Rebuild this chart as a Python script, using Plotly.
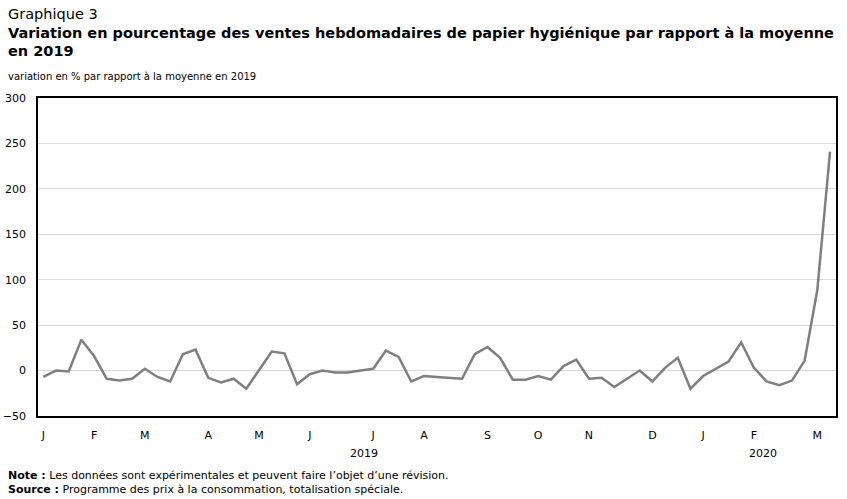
import plotly.graph_objects as go
import pandas as pd

weeks = pd.date_range("2019-01-05", periods=63, freq="7D")
values = [-7, 0, -1, 34, 16, -9, -11, -9, 2, -7, -12, 18, 23, -8, -13, -9, -20, 0, 21, 19,
          -15, -4, 0, -2, -2, 0, 2, 22, 15, -12, -6, -7, -8, -9, 18, 26, 14, -10, -10, -6,
          -10, 5, 12, -9, -8, -18, -9, 0, -12, 3, 14, -20, -6, 2, 10, 31, 3, -12, -16, -11,
          11, 89, 241]
tick_dates = ["2019-01-05", "2019-02-02", "2019-03-02", "2019-04-06", "2019-05-04", "2019-06-01",
              "2019-07-06", "2019-08-03", "2019-09-07", "2019-10-05", "2019-11-02", "2019-12-07",
              "2020-01-04", "2020-02-01", "2020-03-07"]
tick_labels = ["J", "F", "M", "A", "M", "J", "J", "A", "S", "O", "N", "D", "J", "F", "M"]
year_labels = ["2019", "2020"]
year_pos = ["2019-07-01", "2020-02-06"]

FONT = "Verdana, DejaVu Sans, sans-serif"

fig = go.Figure()
fig.add_trace(go.Scatter(x=weeks, y=values, mode="lines",
                         line=dict(color="#7f7f7f", width=2.5), hoverinfo="skip"))

W, H = 847, 499
L, R, T, B = 38, 11, 98, 83
ph = H - T - B
pw = W - L - R

def py(ypix):
    return (H - B - ypix) / ph

def px(xpix):
    return (xpix - L) / pw

ann = []
ann.append(dict(text="Graphique 3", x=px(6), y=py(14), xanchor="left", yanchor="middle",
                font=dict(size=14.5, color="black", family=FONT)))
ann.append(dict(text="<b>Variation en pourcentage des ventes hebdomadaires de papier hygiénique par rapport à la moyenne</b>",
                x=px(6), y=py(33), xanchor="left", yanchor="middle",
                font=dict(size=14.5, color="black", family=FONT)))
ann.append(dict(text="<b>en 2019</b>", x=px(6), y=py(51), xanchor="left", yanchor="middle",
                font=dict(size=14.5, color="black", family=FONT)))
ann.append(dict(text="variation en % par rapport à la moyenne en 2019", x=px(6), y=py(77),
                xanchor="left", yanchor="middle", font=dict(size=10, color="black", family=FONT)))
ann.append(dict(text="<b>Note :</b> Les données sont expérimentales et peuvent faire l’objet d’une révision.",
                x=px(6), y=py(475), xanchor="left", yanchor="middle",
                font=dict(size=11, color="black", family=FONT)))
ann.append(dict(text="<b>Source :</b> Programme des prix à la consommation, totalisation spéciale.",
                x=px(6), y=py(489), xanchor="left", yanchor="middle",
                font=dict(size=11, color="black", family=FONT)))
for t, d in zip(year_labels, year_pos):
    ann.append(dict(text=t, x=d, xref="x", y=py(453), yref="paper", xanchor="center",
                    yanchor="middle", font=dict(size=11, color="black", family=FONT)))
for a in ann:
    a.setdefault("xref", "paper")
    a.setdefault("yref", "paper")
    a["showarrow"] = False

fig.update_layout(
    width=W, height=H,
    margin=dict(l=L, r=R, t=T, b=B, autoexpand=False),
    paper_bgcolor="white", plot_bgcolor="white",
    showlegend=False,
    annotations=ann,
    font=dict(family=FONT, size=11, color="black"),
)
fig.update_xaxes(range=["2019-01-02 02:00", "2020-03-17 07:00"], tickvals=tick_dates,
                 ticktext=tick_labels, showgrid=False, showline=True, linecolor="black",
                 linewidth=1.5, mirror=True, ticks="outside", ticklen=8, automargin=False,
                 tickcolor="rgba(0,0,0,0)", tickfont=dict(size=11), zeroline=False)
fig.update_yaxes(range=[-50, 300], tickvals=[-50, 0, 50, 100, 150, 200, 250, 300],
                 showgrid=True, gridcolor="#d9d9d9", gridwidth=1, showline=True,
                 linecolor="black", linewidth=1.5, mirror=True, ticks="outside", ticklen=8,
                 automargin=False,
                 tickcolor="rgba(0,0,0,0)", tickfont=dict(size=11), zeroline=False)

fig.write_html("out.html")
